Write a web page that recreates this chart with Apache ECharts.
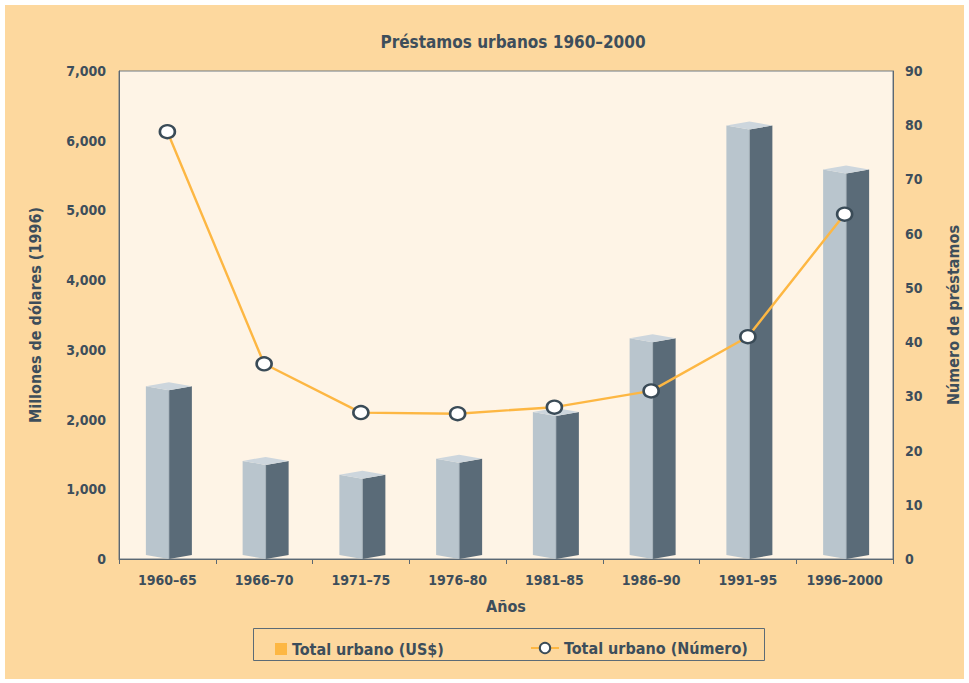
<!DOCTYPE html>
<html>
<head>
<meta charset="utf-8">
<script src="https://cdn.jsdelivr.net/npm/echarts@6/dist/echarts.min.js"></script>
<style>
html,body{margin:0;padding:0;background:#fff;}
#chart{width:969px;height:683px;}
</style>
</head>
<body>
<div id="chart"></div>
<script>
const categories = ['1960–65','1966–70','1971–75','1976–80','1981–85','1986–90','1991–95','1996–2000'];
const amountUSD = [2420, 1350, 1150, 1380, 2050, 3110, 6160, 5530];
const loanCount = [78.8, 36, 27, 26.8, 28, 31, 41, 63.6];
const leftTicks = [0, 1000, 2000, 3000, 4000, 5000, 6000, 7000];
const rightTicks = [0, 10, 20, 30, 40, 50, 60, 70, 80, 90];

const FONT = "'Liberation Sans Narrow','DejaVu Sans Condensed','Roboto Condensed','Arial Narrow',sans-serif";
const TXT = '#3d4e5b';
const AX = '#5b6873';

const chart = echarts.init(document.getElementById('chart'), null, {renderer: 'svg'});

function renderBox(params, api) {
  const idx = api.value(0);
  const top = api.coord([idx, api.value(1)]);
  const base = api.coord([idx, 0]);
  const cx = top[0] + 1.5;
  const yt = top[1];
  const yb = base[1];
  const w = 23;
  return {
    type: 'group',
    children: [
      {type: 'polygon', shape: {points: [[cx - w, yt - 4], [cx, yt], [cx, yb], [cx - w, yb - 4]]},
       style: {fill: '#b9c5cd'}},
      {type: 'polygon', shape: {points: [[cx, yt], [cx + w, yt - 4], [cx + w, yb - 4], [cx, yb]]},
       style: {fill: '#5a6b78'}},
      {type: 'polygon', shape: {points: [[cx - w, yt - 4], [cx, yt - 8], [cx + w, yt - 4], [cx, yt]]},
       style: {fill: '#cdd6dd'}},
      {type: 'line', shape: {x1: cx, y1: yt, x2: cx, y2: yb}, style: {stroke: '#a9b5be', lineWidth: 0.8}}
    ]
  };
}

const option = {
  backgroundColor: '#ffffff',
  animation: false,
  graphic: [
    {type: 'rect', z: -10, shape: {x: 5, y: 5, width: 959, height: 674}, style: {fill: '#fdd89e'}, silent: true},
    {type: 'rect', z: -9, shape: {x: 253.5, y: 628.5, width: 511, height: 32}, style: {fill: 'none', stroke: '#5c6b76', lineWidth: 1}, silent: true}
  ],
  title: {
    text: 'Préstamos urbanos 1960–2000',
    left: 508, top: 28, textAlign: 'center',
    textStyle: {fontFamily: FONT, fontWeight: 'bold', fontSize: 17, color: TXT}
  },
  legend: [
    {
      data: [{name: 'Total urbano (US$)', icon: 'rect', itemStyle: {color: '#fdb743'}}],
      left: 270, top: 636, itemWidth: 12, itemHeight: 12, itemGap: 8,
      textStyle: {fontFamily: FONT, fontWeight: 'bold', fontSize: 16, color: TXT}
    },
    {
      data: ['Total urbano (Número)'],
      left: 525, top: 635, itemWidth: 28, itemHeight: 13, itemGap: 8,
      textStyle: {fontFamily: FONT, fontWeight: 'bold', fontSize: 16, color: TXT}
    }
  ],
  grid: {
    left: 119, right: 74, top: 71, bottom: 124,
    show: true, backgroundColor: '#fef4e6', borderColor: '#6e7a84', borderWidth: 1
  },
  xAxis: {
    type: 'category',
    data: categories,
    boundaryGap: true,
    name: 'Años', nameLocation: 'middle', nameGap: 39,
    nameTextStyle: {fontFamily: FONT, fontWeight: 'bold', fontSize: 16, color: TXT},
    axisLine: {lineStyle: {color: AX, width: 1}},
    axisTick: {show: true, length: 5, interval: 0, lineStyle: {color: AX}},
    axisLabel: {interval: 0, margin: 14, fontFamily: FONT, fontWeight: 'bold', fontSize: 14, color: TXT},
    splitLine: {show: false}
  },
  yAxis: [
    {
      type: 'value', min: 0, max: 7000, interval: 1000, position: 'left',
      name: 'Millones de dólares (1996)', nameLocation: 'middle', nameGap: 76, nameRotate: 90,
      nameTextStyle: {fontFamily: FONT, fontWeight: 'bold', fontSize: 16, color: TXT},
      axisLine: {show: true, lineStyle: {color: AX}},
      axisTick: {show: false},
      splitLine: {show: false},
      axisLabel: {
        margin: 13, fontFamily: FONT, fontWeight: 'bold', fontSize: 14, color: TXT,
        formatter: v => leftTicks.includes(v) ? v.toLocaleString('en-US') : ''
      }
    },
    {
      type: 'value', min: 0, max: 90, interval: 10, position: 'right',
      name: 'Número de préstamos', nameLocation: 'middle', nameGap: 52, nameRotate: 90,
      nameTextStyle: {fontFamily: FONT, fontWeight: 'bold', fontSize: 16, color: TXT},
      axisLine: {show: true, lineStyle: {color: AX}},
      axisTick: {show: false},
      splitLine: {show: false},
      axisLabel: {
        margin: 12, fontFamily: FONT, fontWeight: 'bold', fontSize: 14, color: TXT,
        formatter: v => rightTicks.includes(v) ? String(v) : ''
      }
    }
  ],
  series: [
    {
      name: 'Total urbano (US$)',
      type: 'custom',
      yAxisIndex: 0,
      itemStyle: {color: '#fdb743'},
      renderItem: renderBox,
      encode: {x: 0, y: 1},
      data: amountUSD.map((v, i) => [i, v]),
      z: 2
    },
    {
      name: 'Total urbano (Número)',
      type: 'line',
      yAxisIndex: 1,
      data: loanCount,
      symbol: 'circle',
      symbolSize: [15, 13],
      lineStyle: {color: '#fdb743', width: 2.4},
      itemStyle: {color: '#ffffff', borderColor: '#3a4b57', borderWidth: 2.5},
      z: 5
    }
  ]
};
chart.setOption(option);
</script>
</body>
</html>
